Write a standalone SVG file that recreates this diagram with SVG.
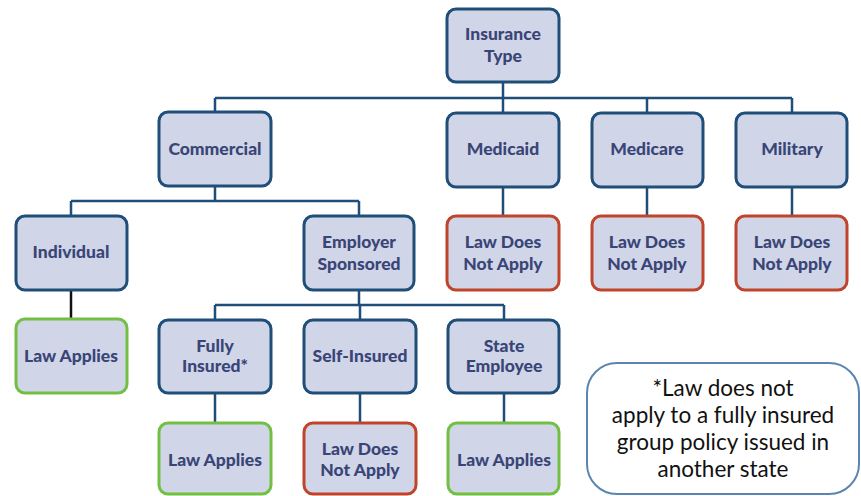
<svg xmlns="http://www.w3.org/2000/svg" width="861" height="496" viewBox="0 0 861 496">
  <style>
    .box { fill: #d0d5e8; stroke-width: 3; }
    .cat { stroke: #1f4e79; }
    .yes { stroke: #72c043; }
    .no  { stroke: #c0442a; }
    .lbl { font-family: Lato, "Liberation Sans", sans-serif; font-weight: 900; font-size: 17.5px; fill: #3a4577; text-anchor: middle; }
    .wire { fill: none; stroke: #1f4e79; stroke-width: 2.5; }
    .note { font-family: Lato, "Liberation Sans", sans-serif; font-size: 22.5px; fill: #111; text-anchor: middle; }
  </style>
  <rect width="861" height="496" fill="#fff"/>

  <g id="connectors">
    <path class="wire" d="M503 82 V113 M215 98 H792 M215 98 V112 M647 98 V113 M792 98 V113"/>
    <path class="wire" d="M215 186 V201 M71 201 H359 M71 201 V216 M359 201 V216"/>
    <path class="wire" d="M503 187 V216 M647 187 V216 M792 187 V216"/>
    <path fill="none" stroke="#111" stroke-width="2.5" d="M71 290 V319"/>
    <path class="wire" d="M359 290 V305 M215 305 H504 M215 305 V320 M360 305 V320 M504 305 V320"/>
    <path class="wire" d="M215 393 V423 M360 393 V423 M504 393 V423"/>
  </g>

  <g id="insurance-type">
    <rect class="box cat" x="447" y="9" width="112" height="73" rx="9"/>
    <text class="lbl" x="503" y="40">Insurance</text>
    <text class="lbl" x="503" y="62">Type</text>
  </g>
  <g id="commercial">
    <rect class="box cat" x="159" y="112" width="112" height="74" rx="9"/>
    <text class="lbl" x="215" y="155">Commercial</text>
  </g>
  <g id="medicaid">
    <rect class="box cat" x="447" y="113" width="112" height="74" rx="9"/>
    <text class="lbl" x="503" y="155">Medicaid</text>
  </g>
  <g id="medicare">
    <rect class="box cat" x="592" y="113" width="111" height="74" rx="9"/>
    <text class="lbl" x="647" y="155">Medicare</text>
  </g>
  <g id="military">
    <rect class="box cat" x="736" y="113" width="111" height="74" rx="9"/>
    <text class="lbl" x="792" y="155">Military</text>
  </g>

  <g id="individual">
    <rect class="box cat" x="16" y="216" width="111" height="74" rx="9"/>
    <text class="lbl" x="71" y="258">Individual</text>
  </g>
  <g id="employer-sponsored">
    <rect class="box cat" x="304" y="216" width="110" height="74" rx="9"/>
    <text class="lbl" x="359" y="248">Employer</text>
    <text class="lbl" x="359" y="270">Sponsored</text>
  </g>
  <g id="medicaid-result">
    <rect class="box no" x="447" y="216" width="112" height="74" rx="9"/>
    <text class="lbl" x="503" y="248">Law Does</text>
    <text class="lbl" x="503" y="270">Not Apply</text>
  </g>
  <g id="medicare-result">
    <rect class="box no" x="592" y="216" width="111" height="74" rx="9"/>
    <text class="lbl" x="647" y="248">Law Does</text>
    <text class="lbl" x="647" y="270">Not Apply</text>
  </g>
  <g id="military-result">
    <rect class="box no" x="736" y="216" width="111" height="74" rx="9"/>
    <text class="lbl" x="792" y="248">Law Does</text>
    <text class="lbl" x="792" y="270">Not Apply</text>
  </g>

  <g id="individual-result">
    <rect class="box yes" x="16" y="319" width="111" height="74" rx="9"/>
    <text class="lbl" x="71" y="362">Law Applies</text>
  </g>
  <g id="fully-insured">
    <rect class="box cat" x="159" y="320" width="112" height="73" rx="9"/>
    <text class="lbl" x="215" y="352">Fully</text>
    <text class="lbl" x="215" y="372">Insured*</text>
  </g>
  <g id="self-insured">
    <rect class="box cat" x="304" y="320" width="112" height="73" rx="9"/>
    <text class="lbl" x="360" y="362">Self-Insured</text>
  </g>
  <g id="state-employee">
    <rect class="box cat" x="448" y="320" width="111" height="73" rx="9"/>
    <text class="lbl" x="504" y="352">State</text>
    <text class="lbl" x="504" y="372">Employee</text>
  </g>

  <g id="fully-insured-result">
    <rect class="box yes" x="159" y="423" width="112" height="71" rx="9"/>
    <text class="lbl" x="215" y="466">Law Applies</text>
  </g>
  <g id="self-insured-result">
    <rect class="box no" x="304" y="423" width="112" height="71" rx="9"/>
    <text class="lbl" x="360" y="455">Law Does</text>
    <text class="lbl" x="360" y="476">Not Apply</text>
  </g>
  <g id="state-employee-result">
    <rect class="box yes" x="448" y="423" width="111" height="71" rx="9"/>
    <text class="lbl" x="504" y="466">Law Applies</text>
  </g>

  <g id="footnote">
    <rect x="587" y="363" width="272" height="131" rx="30" fill="#fff" stroke="#5b84b1" stroke-width="2"/>
    <text class="note" x="723" y="396">*Law does not</text>
    <text class="note" x="723" y="423">apply to a fully insured</text>
    <text class="note" x="723" y="450">group policy issued in</text>
    <text class="note" x="723" y="477">another state</text>
  </g>
</svg>
